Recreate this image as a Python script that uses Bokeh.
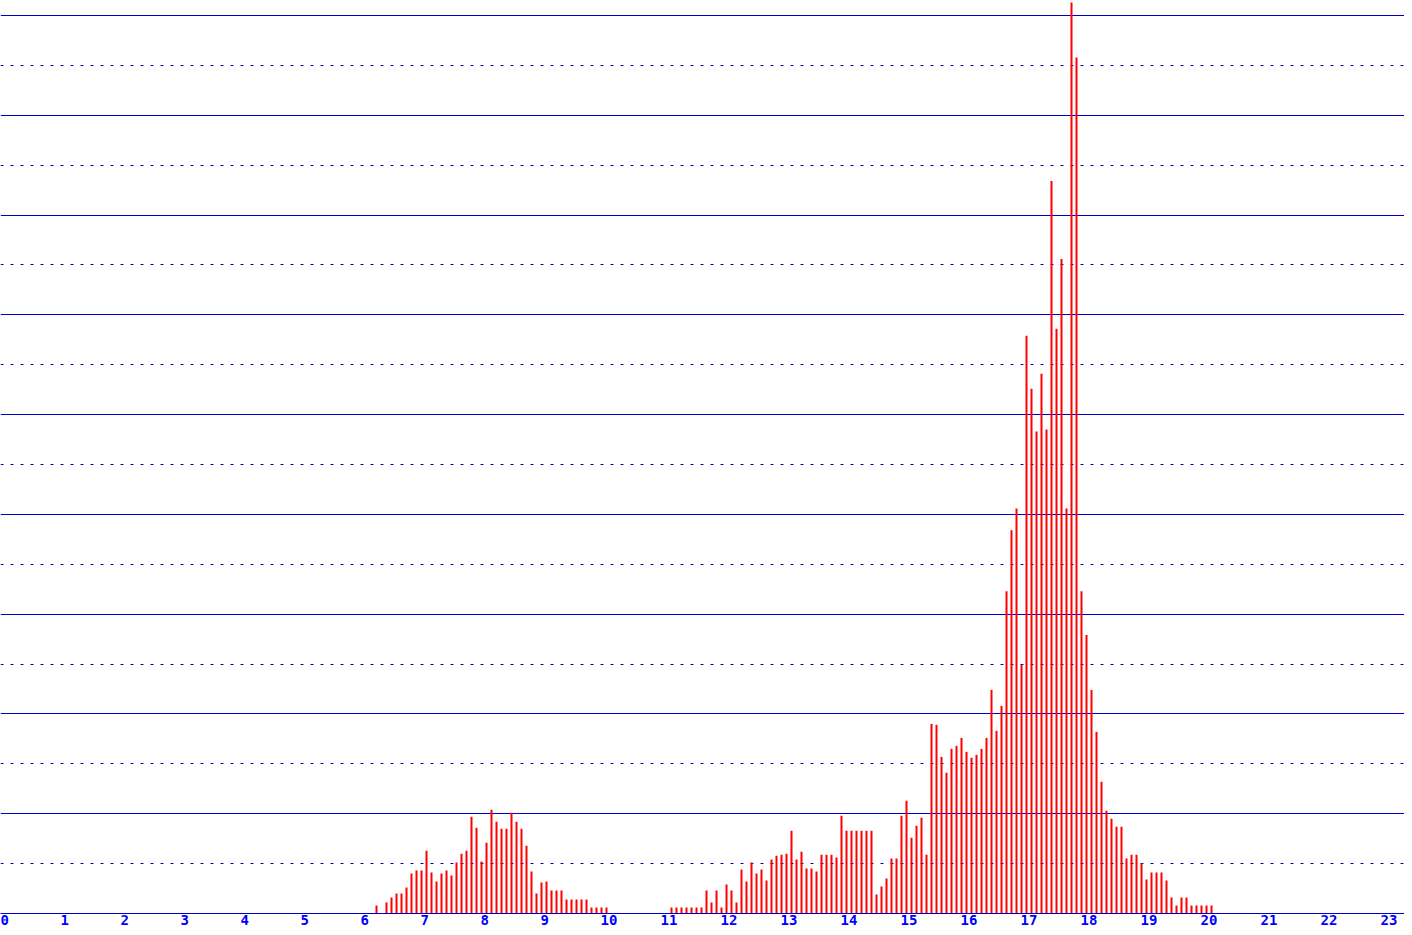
from bokeh.plotting import figure
from bokeh.models import Range1d, FixedTicker, Grid, CustomJSTickFormatter
from bokeh.embed import file_html
from bokeh.resources import INLINE

times = [
    "06:15", "06:25", "06:30", "06:35", "06:40", "06:45", "06:50", "06:55",
    "07:00", "07:05", "07:10", "07:15", "07:20", "07:25", "07:30", "07:35", "07:40", "07:45", "07:50", "07:55",
    "08:00", "08:05", "08:10", "08:15", "08:20", "08:25", "08:30", "08:35", "08:40", "08:45", "08:50", "08:55",
    "09:00", "09:05", "09:10", "09:15", "09:20", "09:25", "09:30", "09:35", "09:40", "09:45", "09:50", "09:55",
    "10:00", "10:05",
    "11:10", "11:15", "11:20", "11:25", "11:30", "11:35", "11:40", "11:45", "11:50", "11:55",
    "12:00", "12:05", "12:10", "12:15", "12:20", "12:25", "12:30", "12:35", "12:40", "12:45", "12:50", "12:55",
    "13:00", "13:05", "13:10", "13:15", "13:20", "13:25", "13:30", "13:35", "13:40", "13:45", "13:50", "13:55",
    "14:00", "14:05", "14:10", "14:15", "14:20", "14:25", "14:30", "14:35", "14:40", "14:45", "14:50", "14:55",
    "15:00", "15:05", "15:10", "15:15", "15:20", "15:25", "15:30", "15:35", "15:40", "15:45", "15:50", "15:55",
    "16:00", "16:05", "16:10", "16:15", "16:20", "16:25", "16:30", "16:35", "16:40", "16:45", "16:50", "16:55",
    "17:00", "17:05", "17:10", "17:15", "17:20", "17:25", "17:30", "17:35", "17:40", "17:45", "17:50", "17:55",
    "18:00", "18:05", "18:10", "18:15", "18:20", "18:25", "18:30", "18:35", "18:40", "18:45", "18:50", "18:55",
    "19:00", "19:05", "19:10", "19:15", "19:20", "19:25", "19:30", "19:35", "19:40", "19:45", "19:50", "19:55",
    "20:00", "20:05", "20:10",
]

values = [
    8, 11, 16, 20, 20, 26, 40, 43,
    43, 63, 41, 32, 40, 43, 38, 51, 60, 63, 97, 86,
    52, 71, 104, 92, 85, 85, 101, 92, 85, 68, 42, 20,
    31, 32, 23, 23, 23, 14, 14, 14, 14, 14, 6, 6,
    6, 6,
    6, 6, 6, 6, 6, 6, 6, 23, 11, 23,
    6, 29, 23, 11, 44, 32, 51, 40, 44, 33, 54, 58,
    59, 60, 83, 54, 62, 45, 45, 42, 59, 59, 59, 56,
    98, 83, 83, 83, 83, 83, 83, 19, 27, 35, 55, 55,
    98, 113, 76, 88, 96, 59, 190, 189, 157, 141, 165, 168,
    176, 162, 156, 159, 165, 176, 224, 183, 208, 323, 384, 406,
    249, 579, 526, 483, 541, 485, 734, 586, 656, 406, 913, 858,
    323, 279, 224, 182, 132, 103, 95, 87, 87, 55, 59, 59,
    50, 34, 41, 41, 41, 33, 16, 8, 16, 16, 8, 8,
    8, 8, 8,
]

hour_ticks = list(range(0, 24))
major_grid = [100, 200, 300, 400, 500, 600, 700, 800, 900]
minor_grid = [50, 150, 250, 350, 450, 550, 650, 750, 850]

BLUE = "#0000CC"
LABEL_BLUE = "#0000FF"
RED = "#FF0000"

W, H = 1404, 927
PX_PER_HOUR = 60.0
Y_TOP = 915
CHAR_W = 8.4  # px, width of one digit of the label font

hours = [int(t[:2]) + int(t[3:]) / 60.0 for t in times]
bar_w = 2.0 / PX_PER_HOUR
centers = [h + bar_w / 2 for h in hours]

p = figure(
    width=W, height=H,
    x_range=Range1d(0, W / PX_PER_HOUR),
    y_range=Range1d(0, Y_TOP),
    output_backend="svg", toolbar_location=None,
    y_axis_location=None,
    min_border_left=0, min_border_right=0, min_border_top=0, min_border_bottom=12,
    background_fill_color="white", border_fill_color="white",
)
p.outline_line_color = None
p.xgrid.visible = False

grid = Grid(
    dimension=1,
    ticker=FixedTicker(ticks=major_grid, minor_ticks=minor_grid),
    grid_line_color=BLUE, grid_line_width=1,
    minor_grid_line_color=BLUE, minor_grid_line_width=1,
    minor_grid_line_dash="3 7",
)
p.add_layout(grid)

p.vbar(x=centers, top=values, bottom=0, width=bar_w, fill_color=RED, line_color=None)

# labels start at their hour (left-aligned): shift each centred label by half its width
label_pos = [h + (len(str(h)) * CHAR_W / 2.0) / PX_PER_HOUR for h in hour_ticks]

ax = p.xaxis[0]
ax.ticker = FixedTicker(ticks=label_pos)
ax.formatter = CustomJSTickFormatter(code="return String(Math.floor(tick));")
ax.axis_line_color = BLUE
ax.axis_line_width = 1
ax.major_tick_line_color = None
ax.minor_tick_line_color = None
ax.major_tick_in = 0
ax.major_tick_out = 0
ax.major_label_standoff = 1
ax.major_label_text_color = LABEL_BLUE
ax.major_label_text_font = "DejaVu Sans Mono"
ax.major_label_text_font_style = "bold"
ax.major_label_text_font_size = "14px"

open("out.html", "w").write(file_html(p, INLINE))
